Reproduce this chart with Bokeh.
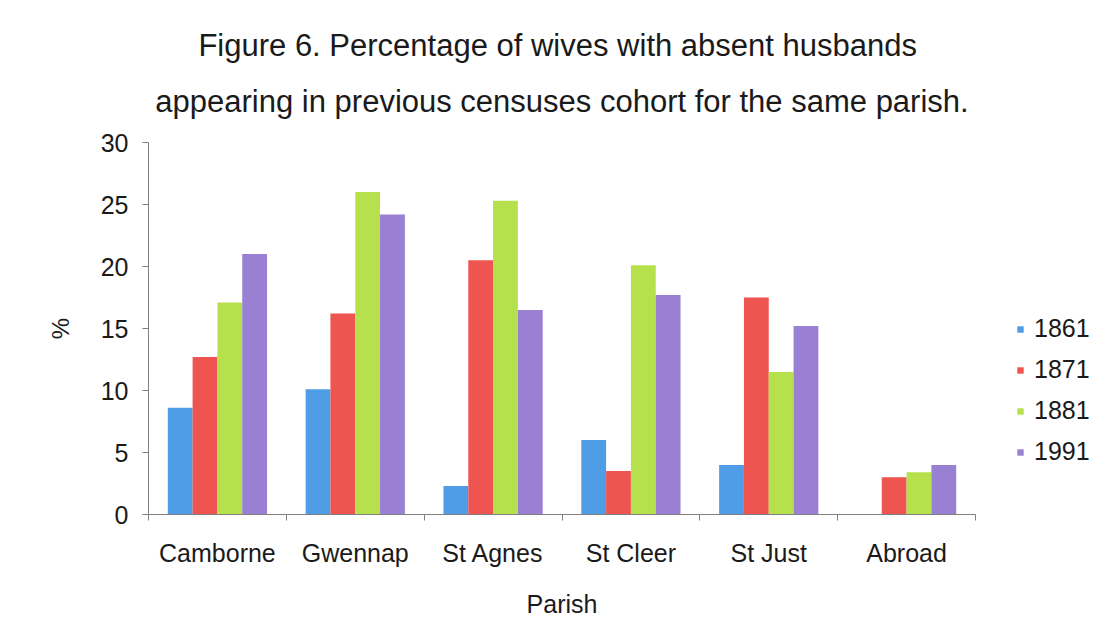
from bokeh.plotting import figure
from bokeh.models import (ColumnDataSource, Range1d, FixedTicker, Title, Legend,
                          LegendItem, LinearAxis)
from bokeh.embed import file_html
from bokeh.resources import INLINE

parishes = ["Camborne", "Gwennap", "St Agnes", "St Cleer", "St Just", "Abroad"]
years = ["1861", "1871", "1881", "1991"]
v1861 = [8.6, 10.1, 2.3, 6.0, 4.0, 0.0]
v1871 = [12.7, 16.2, 20.5, 3.5, 17.5, 3.0]
v1881 = [17.1, 26.0, 25.3, 20.1, 11.5, 3.4]
v1991 = [21.0, 24.2, 16.5, 17.7, 15.2, 4.0]
series = [v1861, v1871, v1881, v1991]
colors = ["#4e9de6", "#ee5450", "#b6e04c", "#9a80d2"]
y_ticks = [0, 5, 10, 15, 20, 25, 30]
title_lines = ["Figure 6. Percentage of  wives with absent husbands",
               "appearing in previous censuses cohort for the same parish."]

FONT = "Liberation Sans"
TXT = "#1a1a1a"
GRID = "#7f7f7f"

FW, FH = 827, 372
p = figure(frame_width=FW, frame_height=FH, output_backend="svg", toolbar_location=None,
           x_range=Range1d(0, len(parishes)), y_range=Range1d(0, 30),
           min_border_left=148, min_border_right=123, min_border_top=0,
           min_border_bottom=112, x_axis_type=None, y_axis_type=None)
p.title = None
p.background_fill_color = "white"
p.border_fill_color = "white"
p.outline_line_color = None

bw = 0.18
offsets = [-0.27, -0.09, 0.09, 0.27]
renderers = []
for yr, vals, col, off in zip(years, series, colors, offsets):
    src = ColumnDataSource(dict(x=[i + 0.5 + off for i in range(len(parishes))], top=vals))
    r = p.vbar(x="x", top="top", width=bw, bottom=0, source=src,
               fill_color=col, line_color=None)
    renderers.append((yr, r))

# y axis
yax = LinearAxis(ticker=FixedTicker(ticks=y_ticks), axis_label="%")
yax.axis_line_color = GRID
yax.major_tick_line_color = GRID
yax.major_tick_out = 6
yax.major_tick_in = 0
yax.minor_tick_line_color = None
yax.major_label_text_font = FONT
yax.major_label_text_font_size = "25px"
yax.major_label_text_color = TXT
yax.major_label_standoff = 14
yax.axis_label_text_font = FONT
yax.axis_label_text_font_size = "24px"
yax.axis_label_text_font_style = "normal"
yax.axis_label_text_color = TXT
yax.axis_label_standoff = 24
p.add_layout(yax, "left")

# x axis: labels at centers, ticks at boundaries
centers = [i + 0.5 for i in range(len(parishes))]
xax = LinearAxis(ticker=FixedTicker(ticks=centers,
                                    minor_ticks=list(range(len(parishes) + 1))),
                 axis_label="Parish")
xax.major_label_overrides = {c: name for c, name in zip(centers, parishes)}
xax.axis_line_color = GRID
xax.major_tick_line_color = None
xax.minor_tick_line_color = GRID
xax.minor_tick_out = 6
xax.minor_tick_in = 0
xax.major_label_text_font = FONT
xax.major_label_text_font_size = "25px"
xax.major_label_text_color = TXT
xax.major_label_standoff = 18
xax.axis_label_text_font = FONT
xax.axis_label_text_font_size = "25px"
xax.axis_label_text_font_style = "normal"
xax.axis_label_text_color = TXT
xax.axis_label_standoff = 20
p.add_layout(xax, "below")

p.ygrid.ticker = FixedTicker(ticks=y_ticks)
p.ygrid.grid_line_color = GRID
p.ygrid.grid_line_width = 1.5
p.xgrid.visible = False

# titles (inner line added first), plus a small spacer on top
t2 = Title(text=title_lines[1], align="center", text_font=FONT,
           text_font_size="31px", text_font_style="normal", text_color=TXT,
           standoff=48)
t1 = Title(text=title_lines[0], align="center", text_font=FONT,
           text_font_size="31px", text_font_style="normal", text_color=TXT,
           standoff=0)
try:
    t1.standoff = -10
except Exception:
    t1.standoff = 0
t0 = Title(text=" ", align="center", text_font=FONT, text_font_size="1px",
           text_color="white", standoff=27)
p.add_layout(t2, "above")
p.add_layout(t1, "above")
p.add_layout(t0, "above")

legend = Legend(items=[LegendItem(label=yr, renderers=[r]) for yr, r in renderers],
                location=(41, 48), glyph_width=8, glyph_height=8,
                label_text_font=FONT, label_text_font_size="25px",
                label_text_color=TXT, spacing=12, label_standoff=10,
                label_height=28, border_line_color=None,
                background_fill_alpha=0, padding=0, margin=0)
p.add_layout(legend, "right")

open("out.html", "w").write(file_html(p, INLINE))
